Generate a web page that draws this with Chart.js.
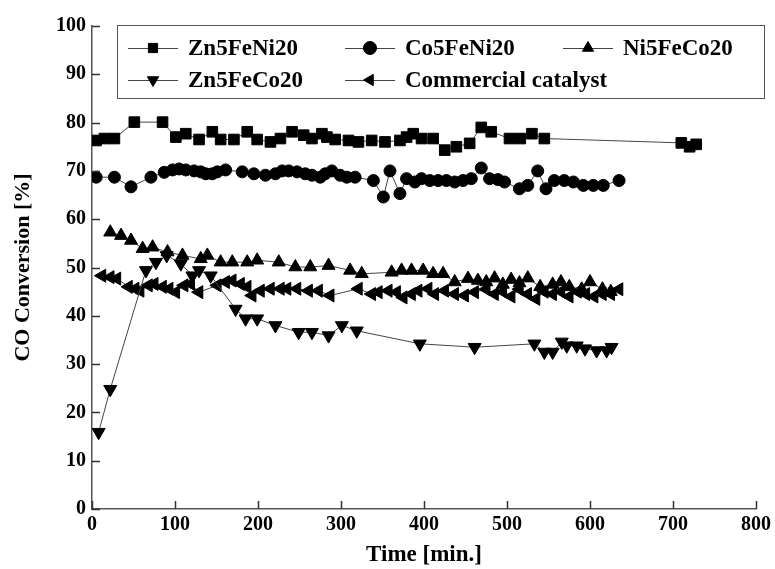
<!DOCTYPE html>
<html>
<head>
<meta charset="utf-8">
<script src="https://cdn.jsdelivr.net/npm/chart.js@4/dist/chart.umd.min.js"></script>
<style>
  body { margin: 0; background: #fff; }
  #wrap { width: 775px; height: 569px; }
</style>
</head>
<body>
<div id="wrap"><canvas id="myChart" width="775" height="569"></canvas></div>
<script>
// data (time in min, CO conversion in %)
var zn5FeNi20Time = [5, 15, 27, 51, 85, 101, 113, 129, 145, 155, 171, 187, 199, 215, 227, 241, 255, 265, 277, 283, 293, 309, 321, 337, 353, 371, 379, 387, 397, 411, 425, 439, 455, 469, 481, 503, 516, 530, 545, 710, 720, 728];
var zn5FeNi20Conv = [76.3, 76.7, 76.7, 80.1, 80.1, 77.0, 77.7, 76.5, 78.1, 76.5, 76.5, 78.1, 76.5, 76.0, 76.7, 78.1, 77.4, 76.7, 77.7, 77.0, 76.5, 76.3, 76.0, 76.3, 76.0, 76.3, 77.0, 77.7, 76.7, 76.7, 74.3, 75.0, 75.7, 79.0, 78.1, 76.7, 76.7, 77.7, 76.7, 75.8, 75.0, 75.5];

var co5FeNi20Time = [5, 27, 47, 71, 87, 97, 105, 113, 123, 131, 137, 145, 151, 161, 181, 195, 209, 221, 229, 237, 247, 257, 265, 275, 281, 289, 299, 307, 317, 339, 351, 359, 371, 379, 389, 397, 407, 417, 427, 437, 447, 457, 469, 479, 489, 497, 515, 525, 537, 547, 557, 569, 580, 592, 604, 616, 635];
var co5FeNi20Conv = [68.7, 68.7, 66.7, 68.7, 69.7, 70.2, 70.4, 70.2, 70.0, 69.8, 69.4, 69.4, 69.8, 70.2, 69.8, 69.4, 69.1, 69.4, 70.0, 70.0, 69.8, 69.4, 69.1, 68.7, 69.4, 70.0, 69.1, 68.7, 68.7, 68.0, 64.6, 70.0, 65.3, 68.4, 67.7, 68.4, 68.0, 68.0, 68.0, 67.7, 68.0, 68.4, 70.6, 68.4, 68.2, 67.7, 66.3, 67.0, 70.0, 66.3, 68.0, 68.0, 67.7, 67.0, 67.0, 67.0, 68.0];

var ni5FeCo20Time = [22, 35, 47, 61, 73, 91, 109, 131, 139, 155, 169, 187, 199, 225, 245, 263, 285, 311, 325, 361, 373, 385, 399, 411, 423, 437, 453, 465, 475, 485, 495, 505, 515, 525, 540, 555, 565, 575, 590, 600, 615, 625];
var ni5FeCo20Conv = [57.3, 56.6, 55.6, 53.9, 54.2, 53.2, 52.5, 51.8, 52.5, 51.1, 51.1, 51.1, 51.5, 51.1, 50.1, 50.1, 50.4, 49.4, 48.7, 49.0, 49.4, 49.4, 49.4, 48.7, 48.7, 47.0, 47.7, 47.3, 47.0, 47.8, 46.5, 47.5, 46.8, 47.8, 46.0, 46.5, 47.0, 46.0, 45.5, 47.0, 45.5, 45.0];

var zn5FeCo20Time = [8, 22, 65, 77, 90, 107, 121, 129, 143, 173, 185, 199, 221, 249, 265, 285, 301, 319, 395, 461, 533, 545, 555, 566, 572, 584, 594, 608, 620, 626];
var zn5FeCo20Conv = [15.9, 24.8, 49.4, 51.1, 52.5, 50.8, 48.3, 49.4, 48.3, 41.4, 39.4, 39.4, 38.0, 36.6, 36.6, 35.9, 38.0, 36.9, 34.2, 33.5, 34.2, 32.5, 32.5, 34.6, 33.8, 33.8, 33.2, 32.8, 32.8, 33.5];

var commercialTime = [12, 22, 30, 44, 52, 58, 68, 75, 85, 93, 101, 111, 119, 129, 151, 161, 169, 179, 187, 193, 203, 215, 227, 235, 247, 261, 273, 287, 321, 337, 345, 357, 367, 375, 385, 393, 405, 413, 425, 437, 449, 461, 475, 485, 495, 505, 515, 525, 535, 545, 555, 565, 575, 585, 595, 605, 615, 625, 635];
var commercialConv = [48.3, 48.0, 47.7, 46.0, 45.6, 45.2, 46.3, 46.6, 46.0, 45.6, 44.9, 46.3, 46.6, 44.9, 46.3, 47.0, 47.3, 46.6, 46.0, 44.2, 45.2, 45.6, 45.6, 45.6, 45.6, 45.2, 45.2, 44.2, 45.6, 44.5, 44.9, 45.2, 44.9, 43.8, 44.5, 45.2, 45.6, 44.5, 45.2, 44.5, 44.2, 44.9, 45.5, 44.5, 45.0, 44.0, 45.5, 44.5, 43.5, 45.0, 44.5, 45.0, 44.0, 45.0, 44.5, 44.0, 44.5, 44.5, 45.5];

var seriesNames = ["Zn5FeNi20", "Co5FeNi20", "Ni5FeCo20", "Zn5FeCo20", "Commercial catalyst"];
var xTicks = [0, 100, 200, 300, 400, 500, 600, 700, 800];
var yTicks = [0, 10, 20, 30, 40, 50, 60, 70, 80, 90, 100];

var serif = "'Liberation Serif', 'DejaVu Serif', serif";

function toPoints(xs, ys) {
  var pts = [];
  for (var i = 0; i < xs.length; i++) pts.push({ x: xs[i], y: ys[i] });
  return pts;
}

function makeSet(name, xs, ys, style, rot, r) {
  return {
    label: name,
    data: toPoints(xs, ys),
    borderColor: "#444",
    borderWidth: 1,
    backgroundColor: "#000",
    pointBackgroundColor: "#000",
    pointBorderColor: "#000",
    pointBorderWidth: 1,
    pointStyle: style,
    rotation: rot,
    pointRadius: r,
    tension: 0,
    fill: false,
  };
}

var datasets = [
  makeSet(seriesNames[0], zn5FeNi20Time, zn5FeNi20Conv, "rect", 0, 7.5),
  makeSet(seriesNames[1], co5FeNi20Time, co5FeNi20Conv, "circle", 0, 6),
  makeSet(seriesNames[2], ni5FeCo20Time, ni5FeCo20Conv, "triangle", 0, 7.5),
  makeSet(seriesNames[3], zn5FeCo20Time, zn5FeCo20Conv, "triangle", 180, 7.5),
  makeSet(seriesNames[4], commercialTime, commercialConv, "triangle", 270, 7.5),
];

// ticks pointing into the plot
var innerTicks = {
  id: "innerTicks",
  afterDraw: function (chart) {
    var ctx = chart.ctx;
    var a = chart.chartArea;
    var xs = chart.scales.x;
    var ys = chart.scales.y;
    ctx.save();
    ctx.strokeStyle = "#333";
    ctx.lineWidth = 1.5;
    ctx.beginPath();
    yTicks.forEach(function (v) {
      var py = Math.round(ys.getPixelForValue(v)) + 0.5;
      ctx.moveTo(a.left, py);
      ctx.lineTo(a.left + 8, py);
    });
    xTicks.forEach(function (v) {
      var px = Math.round(xs.getPixelForValue(v)) + 0.5;
      ctx.moveTo(px, a.bottom);
      ctx.lineTo(px, a.bottom - 8);
    });
    ctx.stroke();
    ctx.restore();
  },
};

// legend box with line + marker samples
var boxLegend = {
  id: "boxLegend",
  afterDraw: function (chart) {
    var ctx = chart.ctx;
    var slots = [
      { x: 128, y: 48 }, { x: 345, y: 48 }, { x: 563, y: 48 },
      { x: 128, y: 80 }, { x: 345, y: 80 },
    ];
    ctx.save();
    ctx.strokeStyle = "#555";
    ctx.lineWidth = 1;
    ctx.strokeRect(117.5, 25.5, 647, 73);
    ctx.font = "bold 23px " + serif;
    ctx.textBaseline = "middle";
    chart.data.datasets.forEach(function (ds, i) {
      var s = slots[i];
      ctx.strokeStyle = "#444";
      ctx.lineWidth = 1;
      ctx.beginPath();
      ctx.moveTo(s.x, s.y + 0.5);
      ctx.lineTo(s.x + 50, s.y + 0.5);
      ctx.stroke();
      ctx.fillStyle = "#000";
      ctx.strokeStyle = "#000";
      Chart.helpers.drawPoint(ctx, {
        pointStyle: ds.pointStyle,
        rotation: ds.rotation,
        radius: 6.5,
        borderWidth: 1,
      }, s.x + 25, s.y);
      ctx.fillText(ds.label, s.x + 60, s.y + 1);
    });
    ctx.restore();
  },
};

new Chart("myChart", {
  type: "line",
  data: { datasets: datasets },
  plugins: [innerTicks, boxLegend],
  options: {
    responsive: false,
    animation: false,
    layout: { padding: { top: 26, right: 0, left: 10, bottom: 0 } },
    plugins: { legend: { display: false }, tooltip: { enabled: false } },
    scales: {
      x: {
        type: "linear",
        min: 0,
        max: 800,
        afterBuildTicks: function (scale) {
          scale.ticks = xTicks.map(function (v) { return { value: v }; });
        },
        afterFit: function (scale) { scale.height = 60; },
        grid: { display: false, drawTicks: false },
        border: { display: true, color: "#555", width: 1.5 },
        ticks: { color: "#000", padding: 4, maxRotation: 0, font: { family: serif, size: 20, weight: "bold" } },
        title: { display: true, text: "Time [min.]", color: "#000", padding: { top: 0, bottom: 0 }, font: { family: serif, size: 23, weight: "bold" } },
      },
      y: {
        min: 0,
        max: 100,
        afterBuildTicks: function (scale) {
          scale.ticks = yTicks.map(function (v) { return { value: v }; });
        },
        afterFit: function (scale) { scale.width = 82; },
        grid: { display: false, drawTicks: false },
        border: { display: true, color: "#555", width: 1.5 },
        ticks: { color: "#000", padding: 6, font: { family: serif, size: 20, weight: "bold" } },
        title: { display: true, text: "CO Conversion [%]", color: "#000", padding: { top: 0, bottom: 4 }, font: { family: serif, size: 22, weight: "bold" } },
      },
    },
  },
});
</script>
</body>
</html>
